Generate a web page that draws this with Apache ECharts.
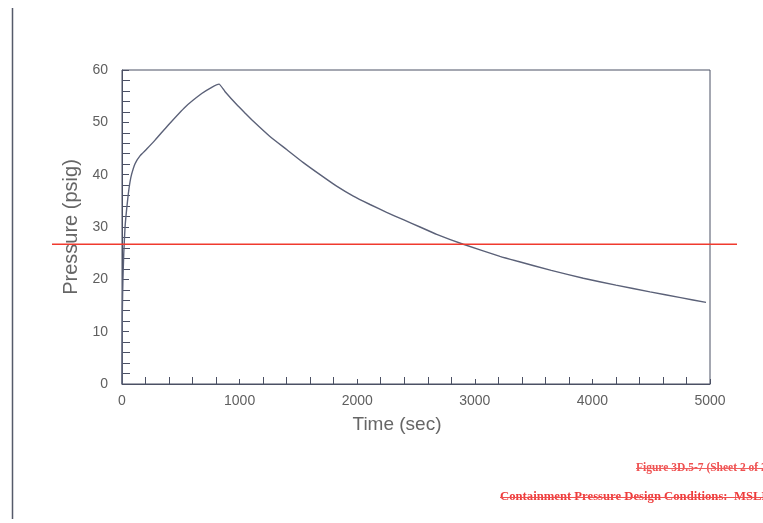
<!DOCTYPE html>
<html>
<head>
<meta charset="utf-8">
<script src="https://cdn.jsdelivr.net/npm/echarts@6/dist/echarts.min.js"></script>
<style>
html,body{margin:0;padding:0;background:#fff;}
#c{width:763px;height:523px;}
</style>
</head>
<body>
<div id="c"></div>
<script>
// Time (sec) and pressure (psig)
const timeSec = [0, 3, 8, 15, 26, 40, 54, 68, 82, 111, 153, 210, 281, 394, 536, 678, 763, 825,
  875, 975, 1050, 1117, 1258, 1400, 1542, 1684, 1825, 1967, 2109, 2250, 2392, 2534, 2676, 2902,
  3214, 3356, 3650, 3923, 4200, 4490, 4750, 4966];
const pressurePsig = [0, 14, 20, 25, 30, 33.5, 36.4, 38.6, 40.1, 42.1, 43.6, 44.9, 46.6, 49.5, 52.9, 55.5, 56.7, 57.3,
  55.9, 53.4, 51.7, 50.2, 47.3, 44.8, 42.3, 40.0, 37.8, 35.9, 34.3, 32.8, 31.4, 30.0, 28.6, 26.7,
  24.4, 23.5, 21.7, 20.2, 18.9, 17.6, 16.5, 15.6];
const limitPressure = 26.7;
const limitSpan = [-595, 5230];
const xTicks = [0, 1000, 2000, 3000, 4000, 5000];
const yTicks = [0, 10, 20, 30, 40, 50, 60];
const captionLine1 = 'Figure 3D.5-7 (Sheet 2 of 2)';
const captionLine2 = 'Containment Pressure Design Conditions:  MSLB';

const axisCol = '#4b5064';
const labelFont = '"Liberation Sans",Arial,sans-serif';

const chart = echarts.init(document.getElementById('c'), null, {renderer: 'canvas'});
const gridBox = {left: 122, top: 70, right: 53, bottom: 139};
chart.setOption({
  animation: false,
  backgroundColor: '#ffffff',
  grid: [
    Object.assign({show: true, borderColor: axisCol, borderWidth: 1, backgroundColor: 'transparent'}, gridBox),
    {left: 52, right: 26, top: 70, bottom: 139, show: false}
  ],
  xAxis: [
    {
      type: 'value', gridIndex: 0, min: xTicks[0], max: xTicks[xTicks.length - 1], interval: 1000,
      name: 'Time (sec)', nameLocation: 'middle', nameGap: 31,
      nameTextStyle: {fontFamily: labelFont, fontSize: 19, color: '#666', padding: [0, 38, 0, 0]},
      axisLine: {show: true, lineStyle: {color: axisCol, width: 1}},
      axisTick: {show: false, inside: true},
      minorTick: {show: true, splitNumber: 5, length: 7, lineStyle: {color: axisCol}},
      axisLabel: {fontFamily: labelFont, fontSize: 14, color: '#5f5f5f', margin: 10, formatter: v => String(v)},
      splitLine: {show: false}
    },
    {
      type: 'value', gridIndex: 0, min: xTicks[0], max: xTicks[xTicks.length - 1], interval: 1000,
      axisLine: {show: false}, axisLabel: {show: false}, splitLine: {show: false},
      axisTick: {show: true, inside: false, length: 5, lineStyle: {color: axisCol}}
    },
    {type: 'value', gridIndex: 1, min: limitSpan[0], max: limitSpan[1], show: false}
  ],
  yAxis: [
    {
      type: 'value', gridIndex: 0, min: yTicks[0], max: yTicks[yTicks.length - 1], interval: 10,
      name: 'Pressure (psig)', nameLocation: 'middle', nameGap: 41, nameRotate: 90,
      nameTextStyle: {fontFamily: labelFont, fontSize: 20, color: '#666'},
      axisLine: {show: true, lineStyle: {color: axisCol, width: 1}},
      axisTick: {show: false, inside: true},
      minorTick: {show: true, splitNumber: 5, length: 8, lineStyle: {color: axisCol}},
      axisLabel: {fontFamily: labelFont, fontSize: 14, color: '#5f5f5f', margin: 14},
      splitLine: {show: false}
    },
    {
      type: 'value', gridIndex: 0, min: yTicks[0], max: yTicks[yTicks.length - 1], interval: 10,
      axisLine: {show: false}, axisLabel: {show: false}, splitLine: {show: false},
      axisTick: {show: true, inside: false, length: 7, lineStyle: {color: axisCol}}
    },
    {type: 'value', gridIndex: 1, min: yTicks[0], max: yTicks[yTicks.length - 1], show: false}
  ],
  series: [
    {
      type: 'line', xAxisIndex: 0, yAxisIndex: 0,
      data: timeSec.map((t, i) => [t, pressurePsig[i]]),
      smooth: 0.15, showSymbol: false, symbol: 'none',
      lineStyle: {color: '#5b6178', width: 1.4}
    },
    {
      type: 'line', xAxisIndex: 2, yAxisIndex: 2, clip: false,
      data: limitSpan.map(t => [t, limitPressure]),
      showSymbol: false, symbol: 'none', z: 5,
      lineStyle: {color: '#f03a2e', width: 1.5}
    }
  ],
  graphic: [
    {type: 'line', shape: {x1: 12.5, y1: 8, x2: 12.5, y2: 519}, style: {stroke: '#555a6a', lineWidth: 1.5}},
    {type: 'text', x: 636, y: 468, style: {text: captionLine1, font: 'bold 11.5px "Liberation Serif",serif', fill: '#ef5050', textVerticalAlign: 'middle'}},
    {type: 'line', shape: {x1: 636, y1: 468.5, x2: 763, y2: 468.5}, style: {stroke: '#f06060', lineWidth: 1}},
    {type: 'text', x: 500, y: 497, style: {text: captionLine2, font: 'bold 12.7px "Liberation Serif",serif', fill: '#ee3b3b', textVerticalAlign: 'middle'}},
    {type: 'line', shape: {x1: 500, y1: 497.5, x2: 763, y2: 497.5}, style: {stroke: '#f05050', lineWidth: 1}}
  ]
});
</script>
</body>
</html>
